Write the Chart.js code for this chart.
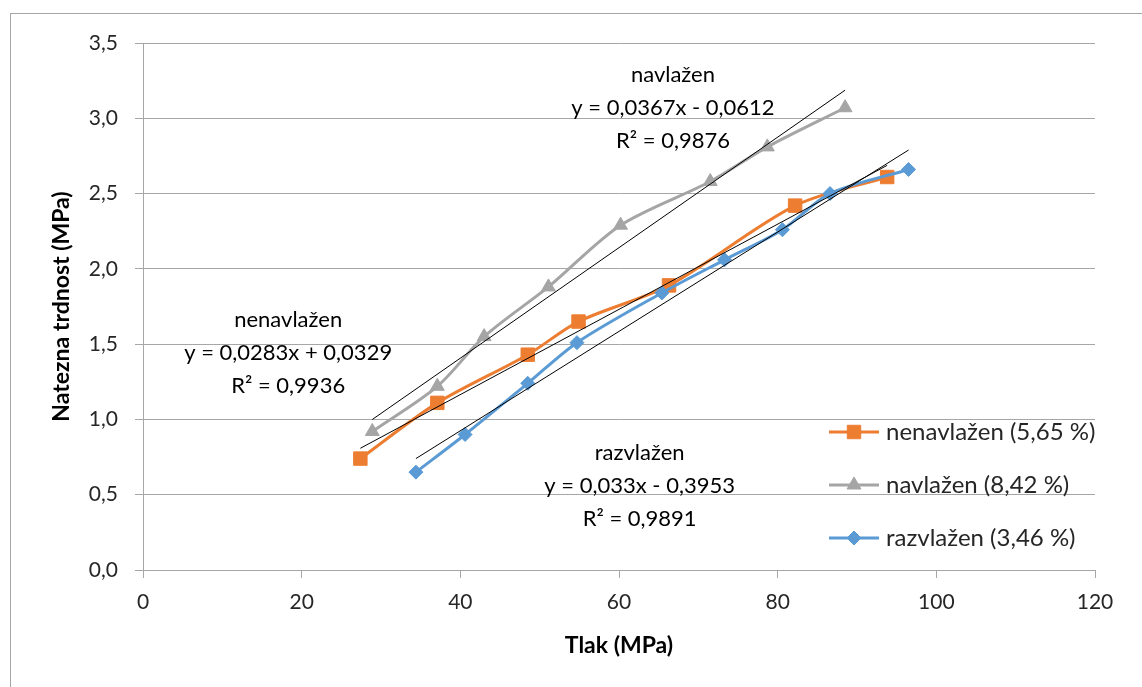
<!DOCTYPE html>
<html>
<head>
<meta charset="utf-8">
<script src="https://cdn.jsdelivr.net/npm/chart.js@4.4.0/dist/chart.umd.min.js"></script>
<style>
  html, body { margin: 0; padding: 0; background: #fff; }
  #wrap { width: 1142px; height: 687px; }
</style>
</head>
<body>
<div id="wrap"><canvas id="chart" width="1142" height="687"></canvas></div>
<script>
// measured series (Tlak in MPa vs natezna trdnost in MPa)
const nenavlazenX = [27.4, 37.1, 48.5, 54.9, 66.3, 82.2, 93.8];
const nenavlazenY = [0.74, 1.11, 1.43, 1.65, 1.89, 2.42, 2.61];
const navlazenX = [28.9, 37.1, 43.0, 51.1, 60.2, 71.5, 78.7, 88.5];
const navlazenY = [0.92, 1.22, 1.55, 1.88, 2.29, 2.58, 2.81, 3.07];
const razvlazenX = [34.4, 40.6, 48.5, 54.7, 65.4, 73.3, 80.6, 86.6, 96.5];
const razvlazenY = [0.65, 0.90, 1.24, 1.51, 1.84, 2.06, 2.26, 2.50, 2.66];

const seriesNames = ['nenavlažen (5,65 %)', 'navlažen (8,42 %)', 'razvlažen (3,46 %)'];

// linear trendlines as printed on the chart
const trendSlopes = [0.0283, 0.0367, 0.033];
const trendIntercepts = [0.0329, -0.0612, -0.3953];
const trendText = [
    ['nenavlažen', 'y = 0,0283x + 0,0329', 'R² = 0,9936'],
    ['navlažen', 'y = 0,0367x - 0,0612', 'R² = 0,9876'],
    ['razvlažen', 'y = 0,033x - 0,3953', 'R² = 0,9891']
];
// where each trend label block sits (data units, first line)
const trendTextAt = [[18.3, 1.66], [66.8, 3.29], [62.6, 0.78]];

const colors = ['#ED7D31', '#A5A5A5', '#5B9BD5'];
const markers = [
    { pointStyle: 'rect', radius: 9.5 },
    { pointStyle: 'triangle', radius: 8 },
    { pointStyle: 'rectRot', radius: 7 }
];

const xs = [nenavlazenX, navlazenX, razvlazenX];
const ys = [nenavlazenY, navlazenY, razvlazenY];

function toPoints(xArr, yArr) {
    return xArr.map((x, i) => ({ x: x, y: yArr[i] }));
}

function trendPoints(k) {
    const lo = Math.min(...xs[k]);
    const hi = Math.max(...xs[k]);
    return [lo, hi].map(x => ({ x: x, y: trendSlopes[k] * x + trendIntercepts[k] }));
}

const datasets = [];
// trendlines first so they sit on top
for (let k = 0; k < 3; k++) {
    datasets.push({
        label: 'trend ' + k,
        data: trendPoints(k),
        borderColor: '#000',
        borderWidth: 1,
        pointRadius: 0,
        tension: 0,
        order: 0
    });
}
for (let k = 2; k >= 0; k--) {
    datasets.push({
        label: seriesNames[k],
        data: toPoints(xs[k], ys[k]),
        borderColor: colors[k],
        backgroundColor: colors[k],
        borderWidth: 3,
        pointStyle: markers[k].pointStyle,
        pointRadius: markers[k].radius,
        pointBorderWidth: 1,
        tension: 0.3,
        order: 3 - k
    });
}

const FONT = 'Lato, "Open Sans", sans-serif';

const excelLook = {
    id: 'excelLook',
    beforeDraw(chart) {
        const ctx = chart.ctx;
        ctx.save();
        ctx.fillStyle = '#fff';
        ctx.fillRect(0, 0, chart.width, chart.height);
        ctx.strokeStyle = '#a6a6a6';
        ctx.lineWidth = 1;
        ctx.strokeRect(10.5, 13.5, chart.width + 20, chart.height + 20);
        ctx.restore();
    },
    afterDraw(chart) {
        const ctx = chart.ctx;
        const xScale = chart.scales.x;
        const yScale = chart.scales.y;
        const area = chart.chartArea;
        ctx.save();

        // trendline labels
        ctx.font = '22px ' + FONT;
        ctx.fillStyle = '#000';
        ctx.textAlign = 'center';
        ctx.textBaseline = 'middle';
        trendText.forEach((lines, k) => {
            const cx = xScale.getPixelForValue(trendTextAt[k][0]);
            const cy = yScale.getPixelForValue(trendTextAt[k][1]);
            lines.forEach((t, i) => ctx.fillText(t, cx, cy + i * 33));
        });

        // legend
        ctx.font = '24px ' + FONT;
        ctx.textAlign = 'left';
        for (let k = 0; k < 3; k++) {
            const ly = area.bottom - 138 + k * 53;
            const lx = area.right - 266;
            ctx.strokeStyle = colors[k];
            ctx.lineWidth = 3;
            ctx.beginPath();
            ctx.moveTo(lx, ly);
            ctx.lineTo(lx + 50, ly);
            ctx.stroke();
            ctx.fillStyle = colors[k];
            ctx.lineWidth = 1;
            Chart.helpers.drawPoint(ctx, {
                pointStyle: markers[k].pointStyle,
                radius: markers[k].radius,
                borderWidth: 1,
                rotation: 0
            }, lx + 25, ly);
            ctx.fillStyle = '#262626';
            ctx.fillText(seriesNames[k], lx + 57, ly);
        }
        ctx.restore();
    }
};

new Chart(document.getElementById('chart'), {
    type: 'line',
    data: { datasets: datasets },
    options: {
        responsive: false,
        animation: false,
        devicePixelRatio: 1,
        layout: { padding: { left: 11, top: 43, right: 47, bottom: 0 } },
        plugins: {
            legend: { display: false },
            tooltip: { enabled: false }
        },
        scales: {
            x: {
                type: 'linear',
                min: 0,
                max: 120,
                ticks: {
                    stepSize: 20,
                    color: '#262626',
                    font: { family: FONT, size: 21 },
                    padding: 12
                },
                grid: {
                    drawOnChartArea: false,
                    drawTicks: true,
                    tickLength: 8,
                    color: '#a6a6a6'
                },
                border: { color: '#a6a6a6' },
                title: {
                    display: true,
                    text: 'Tlak (MPa)',
                    color: '#000',
                    font: { family: FONT, size: 23, weight: 'bold' },
                    padding: { top: 0, bottom: 28 }
                },
                afterFit(scale) { scale.height = 117; }
            },
            y: {
                type: 'linear',
                min: 0,
                max: 3.5,
                ticks: {
                    stepSize: 0.5,
                    color: '#262626',
                    font: { family: FONT, size: 21 },
                    padding: 17,
                    callback: v => v.toFixed(1).replace('.', ',')
                },
                grid: {
                    color: '#a6a6a6',
                    tickLength: 8
                },
                border: { color: '#a6a6a6' },
                title: {
                    display: true,
                    text: 'Natezna trdnost (MPa)',
                    color: '#000',
                    font: { family: FONT, size: 23, weight: 'bold' },
                    padding: { top: 37, bottom: 0 }
                },
                afterFit(scale) { scale.width = 132; }
            }
        }
    },
    plugins: [excelLook]
});
</script>
</body>
</html>
